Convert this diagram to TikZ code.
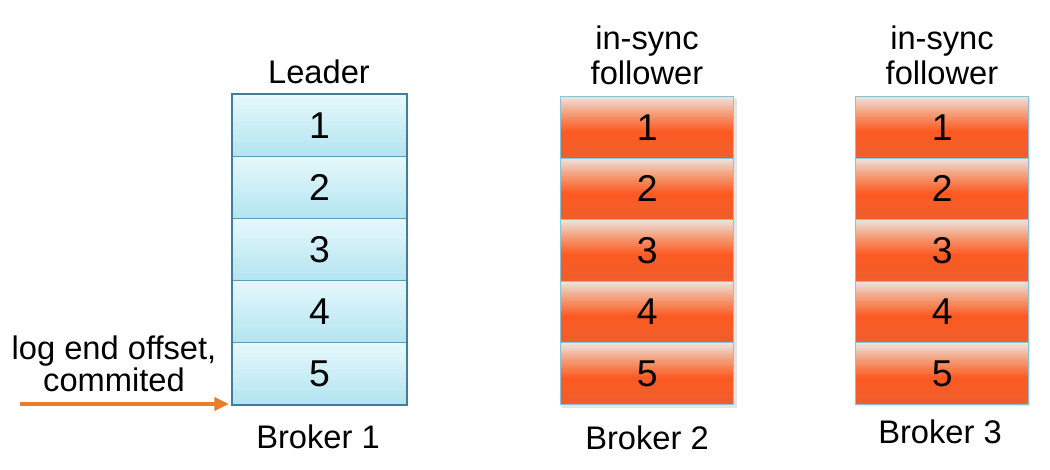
\documentclass[tikz,border=0pt]{standalone}
\usepackage{fontspec}
\setmainfont{Liberation Sans}
\usetikzlibrary{arrows.meta}
\definecolor{otop}{HTML}{ECE4DF}
\definecolor{omid}{HTML}{F4A07C}
\definecolor{oor}{HTML}{FC5A22}
\definecolor{obot}{HTML}{EE5E2C}
\definecolor{btop}{HTML}{E6F8FC}
\definecolor{bbot}{HTML}{B2E4F0}
\definecolor{bline}{HTML}{5E9CB6}
\definecolor{bouter}{HTML}{3F7E9E}
\definecolor{oline}{HTML}{8CC2D2}
\definecolor{arrowor}{HTML}{E87D2E}
\pgfdeclareverticalshading{orangecell}{100bp}{color(0bp)=(obot); color(25bp)=(obot); color(47bp)=(oor); color(62bp)=(omid); color(75bp)=(otop); color(100bp)=(otop)}
\pgfdeclareverticalshading{bluecell}{100bp}{color(0bp)=(bbot); color(25bp)=(bbot); color(75bp)=(btop); color(100bp)=(btop)}
\tikzset{
  lbl/.style={font=\fontsize{24.5}{27}\selectfont, inner sep=0pt, align=center},
  num/.style={font=\fontsize{28}{30}\selectfont},
  bcell/.style={shading=bluecell, draw=bline, line width=0.8pt, minimum width=130.5pt, minimum height=46.5pt, inner sep=0pt, anchor=north west, num},
  ocell/.style={shading=orangecell, draw=oline, line width=0.8pt, minimum width=130pt, minimum height=46.2pt, inner sep=0pt, anchor=north west, num},
  shadowbox/.style={fill=black!10, draw=none},
}
\begin{document}
\begin{tikzpicture}[x=0.75pt,y=-0.75pt]
\useasboundingbox (0,0) rectangle (1050,470);
% shadows
\fill[shadowbox] (234,97) rectangle (408,406);
\fill[shadowbox] (562,99) rectangle (737,408);
\fill[shadowbox] (857,99) rectangle (1030,406);
% Broker 1
\node[bcell] (a1) at (232,94) {1};
\node[bcell] (a2) at (232,156) {2};
\node[bcell] (a3) at (232,218) {3};
\node[bcell] (a4) at (232,280) {4};
\node[bcell] (a5) at (232,342) {5};
\draw[bouter, line width=1.4pt] (a1.north west) rectangle (a5.south east);
% Broker 2
\node[ocell] (b1) at (560,96) {1};
\node[ocell] (b2) at (560,157.6) {2};
\node[ocell] (b3) at (560,219.2) {3};
\node[ocell] (b4) at (560,280.8) {4};
\node[ocell] (b5) at (560,342.4) {5};
% Broker 3
\node[ocell] (c1) at (855,96) {1};
\node[ocell] (c2) at (855,157.6) {2};
\node[ocell] (c3) at (855,219.2) {3};
\node[ocell] (c4) at (855,280.8) {4};
\node[ocell] (c5) at (855,342.4) {5};
% labels
\node[lbl] (lead) at (319,72) {Leader};
\node[lbl] (f2) at (647,55) {in-sync\\[-1pt]follower};
\node[lbl] (f3) at (942,55) {in-sync\\[-1pt]follower};
\node[lbl] (br1) at (318,437) {Broker 1};
\node[lbl] (br2) at (647,438) {Broker 2};
\node[lbl] (br3) at (940,432) {Broker 3};
\node[lbl] (leo) at (114,351) {log end offset,};
\node[lbl] (com) at (114,380) {commited};
% arrow
\coordinate (as) at (20,404);
\coordinate (ae) at (229,404);
\draw[arrowor, line width=2.4pt, -{Triangle[length=11pt,width=10pt]}] (as) -- (ae);
\end{tikzpicture}
\end{document}
